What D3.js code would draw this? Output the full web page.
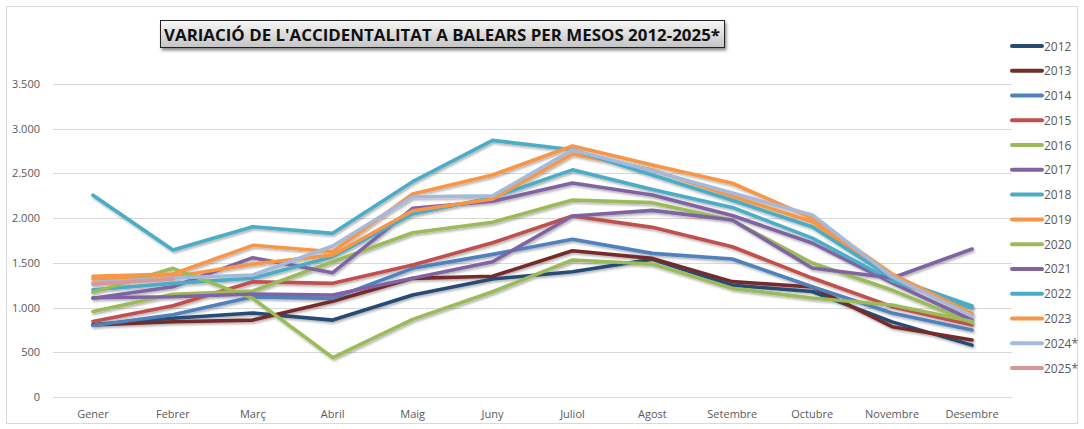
<!DOCTYPE html>
<html>
<head>
<meta charset="utf-8">
<script src="https://cdn.jsdelivr.net/npm/d3@7"></script>
<style>
  body { margin: 0; background: #fff; }
  svg { display: block; font-family: "Open Sans", "Noto Sans", sans-serif; }
</style>
</head>
<body>
<div id="chart"></div>
<script>
// month labels on the x axis
const months = ["Gener", "Febrer", "Març", "Abril", "Maig", "Juny", "Juliol",
  "Agost", "Setembre", "Octubre", "Novembre", "Desembre"];

// y axis ticks
const yTicks = [0, 500, 1000, 1500, 2000, 2500, 3000, 3500];

// series
const years = ["2012", "2013", "2014", "2015", "2016", "2017", "2018",
  "2019", "2020", "2021", "2022", "2023", "2024*", "2025*"];
const colors = ["#264C76", "#772C2A", "#4F81BD", "#C0504D", "#9BBB59", "#8064A2", "#4BACC6",
  "#F79646", "#9BBB59", "#8064A2", "#4BACC6", "#F79646", "#A7B9DA", "#D99795"];

const v2012 = [810, 880, 940, 860, 1140, 1320, 1400, 1540, 1250, 1180, 840, 580];
const v2013 = [805, 842, 860, 1070, 1327, 1350, 1636, 1550, 1290, 1230, 786, 637];
const v2014 = [800, 920, 1120, 1103, 1439, 1595, 1763, 1606, 1543, 1233, 939, 749];
const v2015 = [845, 1020, 1289, 1271, 1476, 1725, 2024, 1897, 1680, 1330, 1010, 805];
const v2016 = [955, 1148, 1185, 1513, 1837, 1955, 2203, 2173, 1975, 1498, 1196, 831];
const v2017 = [1105, 1233, 1558, 1390, 2109, 2188, 2393, 2258, 2030, 1722, 1275, 861];
const v2018 = [1200, 1271, 1327, 1569, 2046, 2232, 2540, 2321, 2120, 1777, 1300, 992];
const v2019 = [1320, 1345, 1487, 1588, 2083, 2214, 2717, 2540, 2245, 1960, 1340, 920];
const v2020 = [1170, 1439, 1103, 440, 868, 1177, 1532, 1487, 1215, 1107, 1029, 845];
const v2021 = [1110, 1121, 1152, 1140, 1327, 1513, 2024, 2087, 1980, 1442, 1330, 1655];
const v2022 = [2257, 1644, 1904, 1830, 2408, 2870, 2765, 2482, 2200, 1904, 1330, 1017];
const v2023 = [1349, 1375, 1696, 1625, 2270, 2482, 2806, 2594, 2390, 2000, 1375, 936];
const v2024 = [1280, 1330, 1364, 1688, 2240, 2249, 2763, 2530, 2280, 2035, 1345, 905];
const v2025 = [1262, 1318];

const values = [v2012, v2013, v2014, v2015, v2016, v2017, v2018,
  v2019, v2020, v2021, v2022, v2023, v2024, v2025];

const W = 1084, H = 429;
const svg = d3.select("#chart").append("svg")
  .attr("width", W).attr("height", H);

const defs = svg.append("defs");
const shadow = defs.append("filter").attr("id", "shadow")
  .attr("x", "-5%").attr("y", "-5%").attr("width", "110%").attr("height", "120%");
shadow.append("feDropShadow").attr("dx", 1.2).attr("dy", 1.8)
  .attr("stdDeviation", 1.1).attr("flood-color", "#000").attr("flood-opacity", 0.3);

const grad = defs.append("linearGradient").attr("id", "titleGrad")
  .attr("x1", 0).attr("y1", 0).attr("x2", 0).attr("y2", 1);
grad.append("stop").attr("offset", "0%").attr("stop-color", "#f7f7f7");
grad.append("stop").attr("offset", "100%").attr("stop-color", "#c4c4c4");

const boxShadow = defs.append("filter").attr("id", "boxShadow")
  .attr("x", "-5%").attr("y", "-20%").attr("width", "110%").attr("height", "160%");
boxShadow.append("feDropShadow").attr("dx", 1.5).attr("dy", 2.5)
  .attr("stdDeviation", 1.5).attr("flood-color", "#000").attr("flood-opacity", 0.45);

// chart border
svg.append("rect")
  .attr("x", 6.5).attr("y", 6.5).attr("width", W - 13).attr("height", H - 12)
  .attr("fill", "#fff").attr("stroke", "#d9d9d9").attr("stroke-width", 1);

// scales
const x = d3.scaleBand().domain(months).range([53, 1012]);
const cx = d => x(d) + x.bandwidth() / 2;
const y = d3.scaleLinear().domain([0, 3500]).range([397, 84]);

const fmt = d3.formatLocale({ decimal: ",", thousands: ".", grouping: [3], currency: ["", "€"] }).format(",d");

// gridlines
svg.append("g").selectAll("line")
  .data(yTicks)
  .enter().append("line")
  .attr("x1", 53).attr("x2", 1012)
  .attr("y1", d => Math.round(y(d)) + 0.5).attr("y2", d => Math.round(y(d)) + 0.5)
  .attr("stroke", "#d9d9d9").attr("stroke-width", 1);

// y labels
svg.append("g").selectAll("text")
  .data(yTicks)
  .enter().append("text")
  .attr("x", 40).attr("y", d => y(d) + 4)
  .attr("text-anchor", "end")
  .attr("font-size", 11).attr("fill", "#595959")
  .text(d => fmt(d));

// x labels
svg.append("g").selectAll("text")
  .data(months)
  .enter().append("text")
  .attr("x", d => cx(d)).attr("y", 418)
  .attr("text-anchor", "middle")
  .attr("font-size", 11).attr("fill", "#595959")
  .text(d => d);

// lines
const line = d3.line()
  .x((d, i) => cx(months[i]))
  .y(d => y(d));

svg.append("g").attr("filter", "url(#shadow)")
  .selectAll("path")
  .data(values)
  .enter().append("path")
  .attr("d", d => line(d))
  .attr("fill", "none")
  .attr("stroke", (d, i) => colors[i])
  .attr("stroke-width", 3.6)
  .attr("stroke-linejoin", "round")
  .attr("stroke-linecap", "round");

// legend
const legend = svg.append("g").selectAll("g")
  .data(years)
  .enter().append("g")
  .attr("transform", (d, i) => "translate(1012," + (46 + i * 24.77) + ")");

legend.append("line")
  .attr("x1", 0).attr("x2", 30)
  .attr("stroke", (d, i) => colors[i])
  .attr("stroke-width", 4)
  .attr("stroke-linecap", "round");

legend.append("text")
  .attr("x", 32).attr("y", 4.5)
  .attr("font-size", 12).attr("fill", "#595959")
  .text(d => d);

// title box
svg.append("rect")
  .attr("x", 160.5).attr("y", 20.5).attr("width", 564).attr("height", 27)
  .attr("fill", "url(#titleGrad)").attr("stroke", "#222").attr("stroke-width", 1)
  .attr("filter", "url(#boxShadow)");

svg.append("text")
  .attr("x", 442).attr("y", 40.5)
  .attr("text-anchor", "middle")
  .attr("font-size", 16.5).attr("font-weight", "bold").attr("fill", "#111")
  .attr("textLength", 556).attr("lengthAdjust", "spacingAndGlyphs")
  .text("VARIACIÓ DE L'ACCIDENTALITAT A BALEARS PER MESOS 2012-2025*");
</script>
</body>
</html>
